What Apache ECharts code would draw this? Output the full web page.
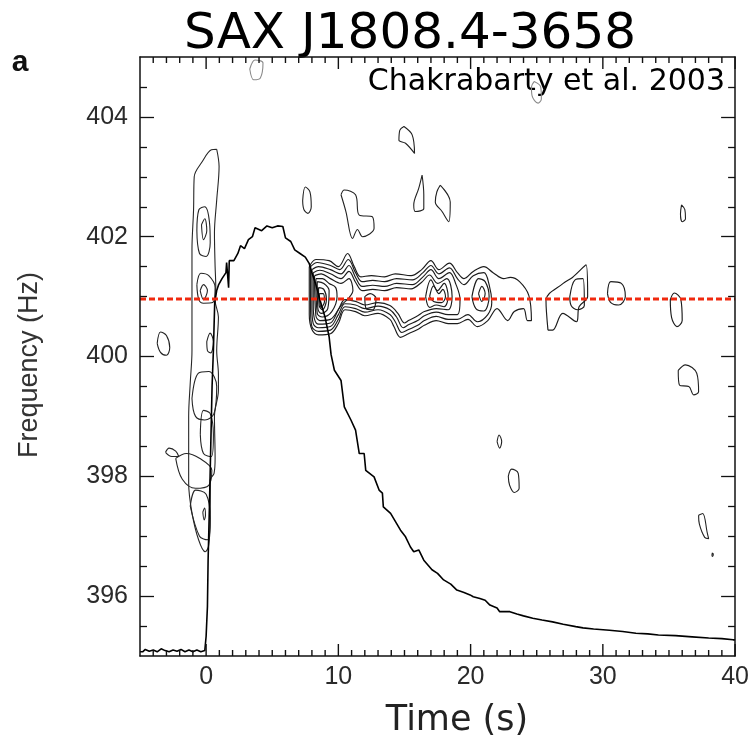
<!DOCTYPE html>
<html><head><meta charset="utf-8">
<script src="https://cdn.jsdelivr.net/npm/echarts@6.0.0/dist/echarts.min.js"></script>
<style>html,body{margin:0;padding:0;background:#fff}#c{width:752px;height:748px}</style>
</head><body><div id="c"></div>
<script>
// ---- axis ticks ----
var xMajorTicks = [0, 10, 20, 30, 40];
var xMinorTicks = [-4,-3,-2,-1,1,2,3,4,5,6,7,8,9,11,12,13,14,15,16,17,18,19,21,22,23,24,25,26,27,28,29,31,32,33,34,35,36,37,38,39];
var yMajorTicks = [396, 398, 400, 402, 404];
var yMinorTicks = [395.5,396.5,397,397.5,398.5,399,399.5,400.5,401,401.5,402.5,403,403.5,404.5];

// ---- reference frequency line (Hz) ----
var spinFreq = 400.96;

// ---- burst light curve (drawn on the frequency scale) [time s, value] ----
var lightCurve = [[-5,395.07],[-4.8,395.07],[-4.6,395.11],[-4.3,395.08],[-4.0,395.1],[-3.7,395.07],[-3.4,395.12],[-3.1,395.09],[-2.8,395.07],[-2.5,395.1],[-2.2,395.08],[-1.9,395.11],[-1.6,395.07],[-1.3,395.1],[-1.0,395.07],[-0.7,395.1],[-0.4,395.07],[-0.1,395.09],[0.0,395.33],[0.1,395.83],[0.15,396.6],[0.25,397.5],[0.35,398.5],[0.45,399.5],[0.55,400.1],[0.65,400.9],[0.8,401.1],[0.95,401.2],[1.2,401.3],[1.5,401.4],[1.55,401.57],[1.7,401.15],[1.75,401.6],[2.1,401.6],[2.4,401.72],[2.6,401.85],[2.9,401.8],[3.2,401.95],[3.5,402.0],[3.7,402.15],[4.2,402.1],[4.6,402.18],[5.0,402.15],[5.4,402.18],[5.8,402.17],[6.0,401.98],[6.4,401.92],[6.7,401.78],[7.1,401.72],[7.5,401.66],[7.8,401.55],[8.0,401.4],[8.3,401.2],[8.6,400.95],[9.0,400.65],[9.3,400.33],[9.45,400.03],[9.7,399.77],[10.2,399.6],[10.45,399.16],[10.95,398.94],[11.3,398.77],[11.58,398.38],[11.95,398.38],[12.07,398.1],[12.7,397.99],[13.08,397.77],[13.33,397.72],[13.4,397.49],[13.95,397.38],[14.7,397.1],[15.08,396.99],[15.45,396.82],[15.7,396.74],[16.08,396.77],[16.46,396.6],[17.08,396.44],[17.5,396.38],[17.96,396.27],[18.5,396.2],[18.96,396.1],[19.5,396.06],[19.96,396.02],[20.2,395.99],[20.7,395.96],[21.1,395.93],[21.46,395.85],[21.6,395.88],[22.0,395.8],[22.2,395.74],[22.97,395.74],[23.5,395.7],[24.0,395.67],[24.7,395.63],[25.4,395.6],[26.2,395.57],[27.0,395.53],[27.95,395.49],[28.5,395.47],[29.3,395.45],[30.5,395.43],[31.5,395.41],[32.5,395.38],[33.4,395.37],[34.2,395.35],[35.5,395.34],[36.75,395.32],[38.0,395.3],[39.0,395.29],[39.85,395.27],[40,395.27]];

// ---- contours near burst onset ----
var onsetContours = [
 [[0.8,403.46],[0.98,403.17],[0.8,402.61],[0.63,402.06],[0.68,401.5],[0.73,401.17],[0.68,400.94],[0.93,400.66],[0.8,400.1],[0.93,399.7],[0.93,399.44],[0.63,399.0],[0.68,398.3],[0.6,398.05],[0.31,397.94],[0.31,397.3],[0.18,396.83],[-0.07,396.74],[-0.57,396.94],[-1.07,397.39],[-1.32,397.89],[-1.32,399.0],[-1.2,399.56],[-1.07,400.1],[-1.07,400.94],[-1.07,401.78],[-0.95,402.45],[-0.9,403.0],[-0.3,403.25],[0.4,403.45]],
 [[-0.7,402.1],[-0.55,402.45],[-0.1,402.5],[0.25,402.25],[0.31,401.9],[0.0,401.67],[-0.5,401.72]],
 [[-0.35,402.2],[-0.1,402.3],[0.05,402.1],[-0.2,401.95]],
 [[-0.7,401.2],[-0.4,401.39],[0.2,401.35],[0.68,401.15],[0.5,400.9],[-0.2,400.89],[-0.55,400.95]],
 [[-0.45,401.1],[-0.2,401.2],[0.1,401.1],[-0.2,400.95]],
 [[0.05,400.25],[0.3,400.39],[0.55,400.25],[0.35,400.06],[0.1,400.1]],
 [[-1.07,399.3],[-0.6,399.72],[0.2,399.75],[0.8,399.5],[0.6,399.05],[-0.1,398.94],[-0.8,399.0]],
 [[-0.44,398.7],[-0.2,399.1],[0.3,399.05],[0.55,398.7],[0.4,398.33],[-0.2,398.38]],
 [[-3.07,398.4],[-2.8,398.47],[-2.3,398.42],[-2.07,398.33],[-2.6,398.33]],
 [[-2.3,398.3],[-1.5,398.38],[-0.5,398.3],[0.43,398.1],[0.2,397.85],[-0.8,397.8],[-1.8,397.95]],
 [[-1.2,397.5],[-0.8,397.77],[0.0,397.7],[0.31,397.3],[0.1,396.94],[-0.5,397.0]],
 [[-0.25,397.4],[-0.12,397.47],[-0.05,397.35],[-0.15,397.27]]
];

// ---- nested contours of the oscillation band in the tail ----
var bandContours = [
 [[7.8,401.5],[8.3,401.62],[9.3,401.6],[10.0,401.5],[10.7,401.72],[11.2,401.5],[11.7,401.33],[12.5,401.35],[13.5,401.33],[14.3,401.38],[15.5,401.35],[16.3,401.45],[17.0,401.6],[17.6,401.45],[18.4,401.56],[19.0,401.4],[19.5,401.3],[20.2,401.42],[21.0,401.5],[21.7,401.4],[22.5,401.3],[23.0,401.32],[23.7,401.25],[24.4,401.02],[24.6,400.6],[24.3,400.6],[24.0,400.8],[23.3,400.75],[22.8,400.6],[22.0,400.8],[21.3,400.6],[20.5,400.5],[19.8,400.62],[19.0,400.55],[18.3,400.55],[17.4,400.6],[16.5,400.52],[16.0,400.45],[15.3,400.38],[14.7,400.32],[14.2,400.5],[13.9,400.62],[13.0,400.72],[12.0,400.68],[11.3,400.75],[10.5,400.78],[10.0,400.55],[9.4,400.38],[8.5,400.36],[8.0,400.45],[7.8,400.7]],
 [[7.9,401.5],[8.4,401.57],[9.4,401.52],[10.1,401.45],[10.75,401.62],[11.3,401.4],[11.8,401.25],[12.6,401.27],[13.5,401.25],[14.4,401.3],[15.6,401.28],[16.4,401.4],[17.0,401.52],[17.6,401.38],[18.4,401.48],[19.0,401.3],[19.5,401.2],[20.2,401.35],[21.0,401.4],[21.4,401.2],[21.6,400.9],[21.3,400.7],[20.5,400.58],[19.8,400.7],[19.0,400.62],[18.3,400.62],[17.4,400.67],[16.5,400.6],[16.0,400.52],[15.3,400.45],[14.8,400.4],[14.3,400.58],[13.9,400.7],[13.0,400.78],[12.0,400.74],[11.3,400.8],[10.5,400.83],[10.0,400.62],[9.4,400.44],[8.5,400.42],[8.0,400.5],[7.9,400.75]],
 [[8.0,401.45],[8.5,401.5],[9.4,401.45],[10.2,401.38],[10.8,401.52],[11.3,401.32],[11.8,401.17],[12.6,401.19],[13.5,401.17],[14.4,401.22],[15.6,401.2],[16.4,401.33],[17.0,401.45],[17.6,401.3],[18.4,401.4],[18.9,401.2],[19.2,400.95],[19.0,400.7],[18.3,400.7],[17.4,400.74],[16.5,400.68],[16.0,400.6],[15.3,400.53],[14.9,400.48],[14.4,400.66],[13.9,400.78],[13.0,400.84],[12.0,400.8],[11.3,400.86],[10.5,400.88],[10.0,400.7],[9.4,400.5],[8.5,400.48],[8.1,400.55],[8.0,400.8]],
 [[8.1,401.4],[8.6,401.44],[9.4,401.38],[10.2,401.3],[10.8,401.42],[11.3,401.24],[11.8,401.1],[12.6,401.12],[13.5,401.1],[14.4,401.15],[15.5,401.13],[16.3,401.24],[16.9,401.36],[17.5,401.22],[18.2,401.3],[18.6,401.0],[18.3,400.78],[17.4,400.8],[16.5,400.75],[16.0,400.68],[15.3,400.6],[15.0,400.56],[14.5,400.72],[13.9,400.85],[13.0,400.9],[12.0,400.86],[11.3,400.92],[10.5,400.95],[10.0,400.78],[9.4,400.56],[8.5,400.54],[8.2,400.62],[8.1,400.85]],
 [[8.2,401.35],[8.7,401.38],[9.4,401.3],[10.2,401.22],[10.8,401.3],[11.1,401.1],[10.8,400.98],[10.2,400.85],[9.4,400.62],[8.6,400.6],[8.3,400.68]],
 [[12.0,401.0],[12.4,401.05],[12.85,400.97],[12.6,400.78],[12.1,400.8]],
 [[16.6,401.0],[17.0,401.28],[17.5,401.1],[18.0,401.22],[18.3,401.0],[18.0,400.83],[17.4,400.86],[16.9,400.82]],
 [[20.1,401.0],[20.6,401.3],[21.1,401.25],[21.4,401.0],[21.0,400.76],[20.4,400.8]],
 [[8.3,401.3],[8.8,401.3],[9.3,401.22],[9.8,401.15],[9.9,401.0],[9.5,400.75],[8.8,400.66],[8.4,400.72]],
 [[16.9,401.0],[17.2,401.18],[17.6,401.05],[17.9,401.12],[18.1,401.0],[17.8,400.9],[17.2,400.92]],
 [[20.6,401.05],[20.85,401.17],[21.1,401.05],[20.85,400.92]],
 [[8.4,401.25],[8.9,401.22],[9.3,401.1],[9.2,400.8],[8.7,400.72],[8.45,400.8]],
 [[8.5,401.15],[8.9,401.12],[9.1,400.95],[8.8,400.78],[8.55,400.85]],
 [[8.55,401.05],[8.85,401.05],[8.95,400.92],[8.7,400.82],[8.6,400.9]],
 [[25.85,400.44],[25.7,400.94],[27.0,401.22],[27.7,401.32],[28.73,401.53],[28.85,401.0],[28.2,400.83],[28.0,400.58],[26.97,400.72],[26.2,400.44]],
 [[27.5,401.0],[27.9,401.28],[28.5,401.3],[28.6,400.85],[28.1,400.78],[27.6,400.85]],
 [[30.35,401.05],[30.6,401.25],[31.4,401.22],[31.7,401.0],[31.2,400.86],[30.6,400.9]],
 [[35.1,400.95],[35.4,401.06],[35.9,400.95],[36.0,400.6],[35.6,400.5],[35.2,400.65]]
];

// ---- isolated noise contours ----
var noiseContours = [
 [[-3.7,400.22],[-3.45,400.41],[-3.0,400.35],[-2.75,400.15],[-3.0,400.02],[-3.45,400.07]],
 [[7.3,402.6],[7.5,402.83],[7.85,402.75],[7.95,402.5],[7.7,402.39],[7.4,402.45]],
 [[10.2,402.7],[10.45,402.78],[11.3,402.7],[11.58,402.36],[12.58,402.33],[12.7,402.14],[11.83,402.0],[11.45,402.12],[11.07,401.97],[10.57,402.42]],
 [[16.33,403.03],[16.46,402.7],[16.46,402.47],[15.83,402.42],[15.7,402.53],[16.08,402.81]],
 [[17.7,402.86],[18.46,402.58],[18.34,402.25],[17.84,402.42],[17.33,402.58],[17.45,402.75]],
 [[14.96,403.84],[15.58,403.7],[15.76,403.39],[15.08,403.56],[14.58,403.61],[14.65,403.78]],
 [[35.95,402.53],[36.2,402.45],[36.25,402.3],[36.0,402.25],[35.87,402.38]],
 [[35.7,399.77],[36.25,399.86],[37.1,399.72],[37.24,399.41],[36.87,399.36],[36.5,399.5],[35.8,399.52]],
 [[22.0,398.58],[22.15,398.69],[22.35,398.58],[22.2,398.47]],
 [[22.85,398.0],[23.1,398.12],[23.6,398.05],[23.67,397.8],[23.3,397.73],[22.95,397.85]],
 [[37.24,397.35],[37.55,397.38],[37.9,397.05],[38.0,396.96],[37.7,396.98],[37.3,397.2]],
 [[38.28,396.72],[38.35,396.7],[38.3,396.66],[38.25,396.68]]
];
var faintContours = [
 [[3.3,404.8],[3.7,404.95],[4.3,404.9],[4.1,404.65],[3.6,404.62]],
 [[24.8,404.59],[25.3,404.5],[25.35,404.3],[25.1,404.23],[24.65,404.35],[24.6,404.5]]
];

var X_MIN = -5, X_MAX = 40, Y_MIN = 395, Y_MAX = 405;
var axisCol = '#111';

function closed(p){ return p.concat([p[0]]); }
var series = [];
function addContours(list, color, width){
  list.forEach(function(p){
    series.push({type:'line', data: closed(p), smooth:0.35, symbol:'none', silent:true,
      lineStyle:{color:color, width:width}, z:2, clip:true});
  });
}
addContours(onsetContours, '#262626', 1.1);
addContours(bandContours, '#1c1c1c', 1.15);
addContours(noiseContours, '#222', 1.1);
addContours(faintContours, '#8a8a8a', 1.1);

series.push({type:'line', data: lightCurve, symbol:'none', silent:true,
  lineStyle:{color:'#000', width:1.6}, z:4});
series.push({type:'line', data: [[X_MIN, spinFreq],[X_MAX, spinFreq]], symbol:'none', silent:true,
  lineStyle:{color:'#111', width:1.2, type:[5,4]}, z:5});
series.push({type:'line', data: [[X_MIN, spinFreq],[X_MAX, spinFreq]], symbol:'none', silent:true,
  lineStyle:{color:'#f0290e', width:3.2, type:[6,3]}, z:6});

function xAx(pos){
  return {type:'value', min:X_MIN, max:X_MAX, position:pos, gridIndex:0, offset:0,
    axisLine:{show:true, onZero:false, lineStyle:{color:axisCol, width:1.5}},
    splitLine:{show:false},
    axisTick:{show:false},
    axisLabel:{show: pos==='bottom', customValues:xMajorTicks, fontSize:25, color:'#2a2a2a',
      fontFamily:'Liberation Sans', margin:9}};
}
function yAx(pos, major){
  return {type:'value', min:Y_MIN, max:Y_MAX, position:pos, gridIndex:0, offset:0, z:10,
    axisLine:{show:major, onZero:false, lineStyle:{color:axisCol, width:1.5}},
    splitLine:{show:false},
    axisTick:{show:true, inside:true, length: major?14:7, customValues: major? yMajorTicks : yMinorTicks,
      lineStyle:{color:axisCol, width:1.3}},
    axisLabel:{show: major && pos==='left', customValues:yMajorTicks, fontSize:25, color:'#2a2a2a',
      fontFamily:'Liberation Sans', margin:12}};
}

var graphics = [
  {type:'text', x:410, y:35, style:{text:'SAX J1808.4-3658', font:'50px "DejaVu Sans"', fill:'#000', textAlign:'center', textVerticalAlign:'middle'}},
  {type:'text', x:725, y:82, style:{text:'Chakrabarty et al. 2003', font:'30px "DejaVu Sans"', fill:'#000', textAlign:'right', textVerticalAlign:'middle'}},
  {type:'text', x:20, y:63, style:{text:'a', font:'bold 30px "Liberation Sans"', fill:'#111', textAlign:'center', textVerticalAlign:'middle'}},
  {type:'text', x:457, y:721, style:{text:'Time (s)', font:'35px "DejaVu Sans"', fill:'#222', textAlign:'center', textVerticalAlign:'middle'}},
  {type:'text', x:30, y:365, rotation:Math.PI/2, style:{text:'Frequency (Hz)', font:'27px "Liberation Sans"', fill:'#333', textAlign:'center', textVerticalAlign:'middle'}}
];

var chart = echarts.init(document.getElementById('c'), null, {renderer:'canvas'});
chart.setOption({
  animation:false,
  backgroundColor:'#fff',
  grid:{left:140, right:12, top:57, bottom:92, containLabel:false},
  xAxis:[xAx('bottom'), xAx('top')],
  yAxis:[yAx('left',true), yAx('left',false), yAx('right',true), yAx('right',false)],
  series: series,
  graphic: graphics
});

// x-axis tick marks: positions come from the chart's own x scale
function addTicks(values, len){
  values.forEach(function(v){
    var b = chart.convertToPixel({xAxisIndex:0, yAxisIndex:0}, [v, Y_MIN]);
    var t = chart.convertToPixel({xAxisIndex:0, yAxisIndex:0}, [v, Y_MAX]);
    if (!b || !t) return;
    graphics.push({type:'line', z:50, silent:true, shape:{x1:b[0], y1:b[1], x2:b[0], y2:b[1]-len}, style:{stroke:axisCol, lineWidth:1.4}});
    graphics.push({type:'line', z:50, silent:true, shape:{x1:t[0], y1:t[1], x2:t[0], y2:t[1]+len}, style:{stroke:axisCol, lineWidth:1.4}});
  });
}
addTicks(xMajorTicks, 12);
addTicks(xMinorTicks, 6);
chart.setOption({graphic: graphics}, {replaceMerge:['graphic']});
</script>
</body></html>
